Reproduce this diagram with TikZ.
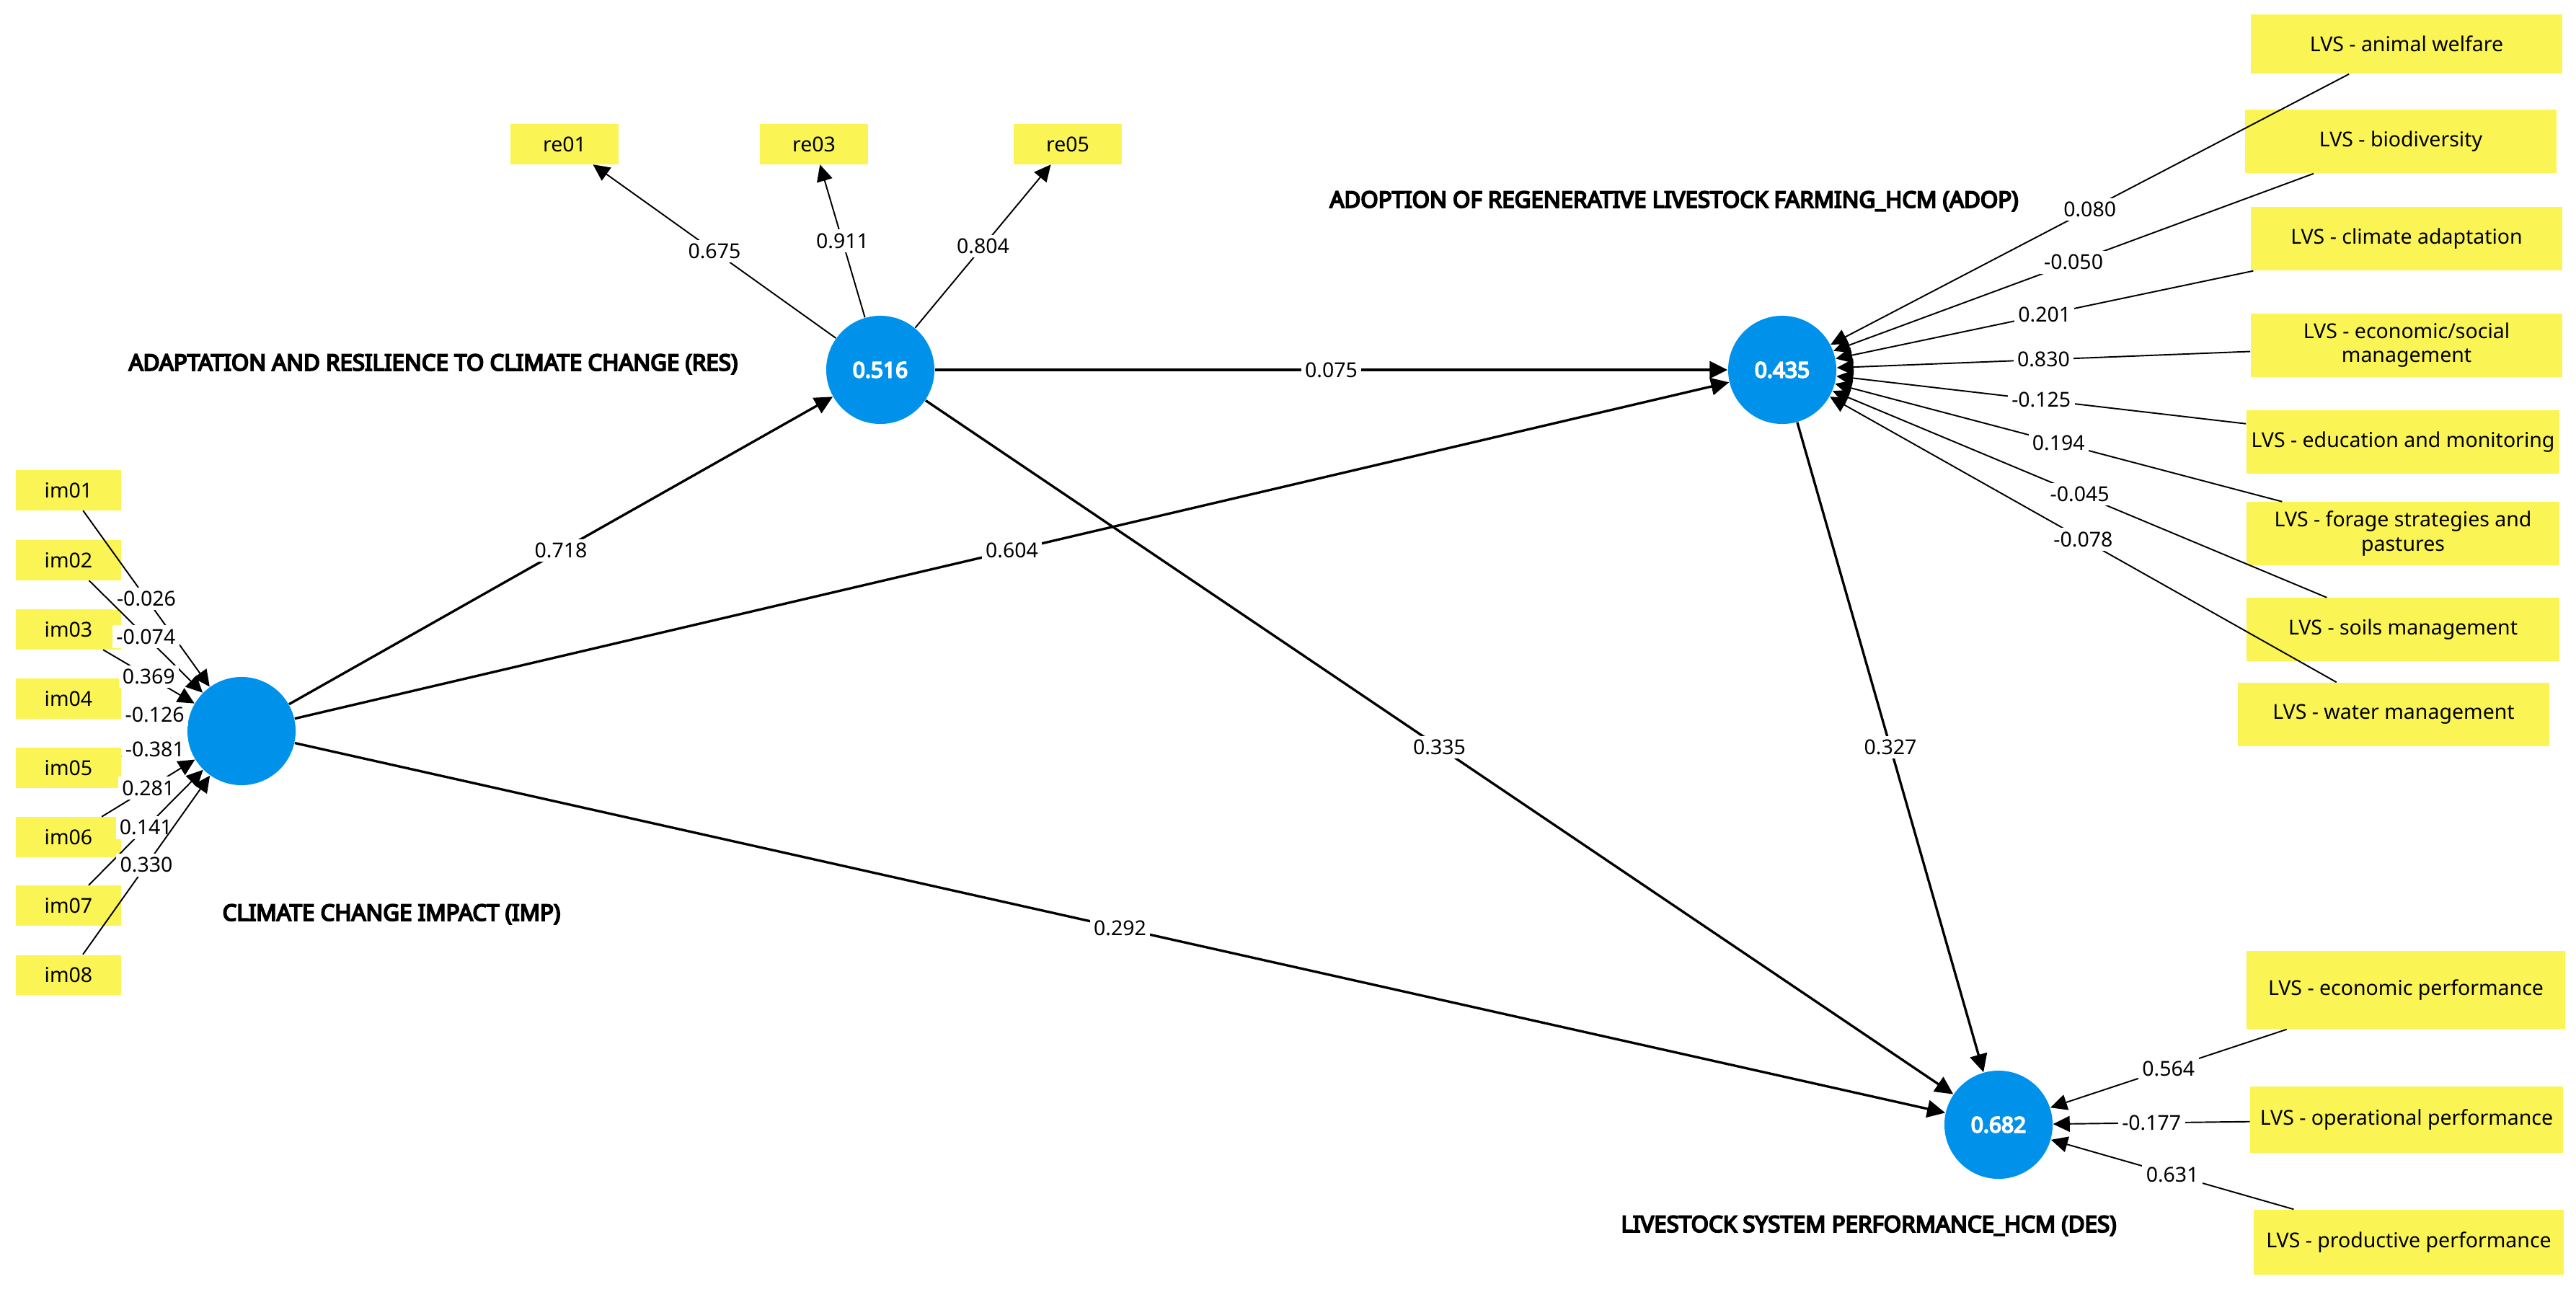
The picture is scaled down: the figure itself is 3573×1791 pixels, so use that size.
\documentclass[tikz,border=0pt]{standalone}
\usepackage{fontspec}
\setmainfont{Noto Sans}
\newfontfamily\heavyfont{Noto Sans}[FakeBold=6]
\usetikzlibrary{arrows.meta}
\definecolor{lvblue}{RGB}{0,146,234}
\definecolor{mvyellow}{RGB}{250,245,85}
\begin{document}
\begin{tikzpicture}[x=0.01cm,y=-0.01cm,
  lat/.style={circle,fill=lvblue,minimum size=1.5cm,inner sep=0pt,text=white,font=\heavyfont\fontsize{8.5pt}{10pt}\selectfont},
  ind/.style={rectangle,fill=mvyellow,inner sep=0pt,minimum height=0.55cm,minimum width=1.46cm,font=\fontsize{8.1pt}{9.4pt}\selectfont},
  lvs/.style={ind,minimum width=4.32cm,minimum height=0.87cm,align=center},
  ttl/.style={font=\heavyfont\fontsize{8.9pt}{10pt}\selectfont,inner sep=0pt},
  lbl/.style={fill=white,inner sep=1.5pt,font=\fontsize{8.1pt}{10pt}\selectfont,text=black},
  mpath/.style={draw=black,line width=0.55pt,-{Triangle[length=0.23cm,width=0.22cm]}},
  spath/.style={draw=black,line width=0.95pt,-{Triangle[length=0.25cm,width=0.24cm]}},
]
\useasboundingbox[fill=white] (0,0) rectangle (3573,1791);

% latent variables
\node[lat] (IMP) at (335,1014) {};
\node[lat] (RES) at (1221,513) {0.516};
\node[lat] (ADOP) at (2472,513) {0.435};
\node[lat] (DES) at (2772,1560) {0.682};

% titles
\node[ttl] (tIMP) at (543,1268) {CLIMATE CHANGE IMPACT (IMP)};
\node[ttl] (tRES) at (601,505) {ADAPTATION AND RESILIENCE TO CLIMATE CHANGE (RES)};
\node[ttl] (tADOP) at (2322,279) {ADOPTION OF REGENERATIVE LIVESTOCK FARMING\_HCM (ADOP)};
\node[ttl] (tDES) at (2592,1700) {LIVESTOCK SYSTEM PERFORMANCE\_HCM (DES)};

% IMP indicators
\node[ind] (im01) at (95,680) {im01};
\node[ind] (im02) at (95,777) {im02};
\node[ind] (im03) at (95,873) {im03};
\node[ind] (im04) at (95,969) {im04};
\node[ind] (im05) at (95,1065) {im05};
\node[ind] (im06) at (95,1161) {im06};
\node[ind] (im07) at (95,1256) {im07};
\node[ind] (im08) at (95,1352) {im08};

% RES indicators
\node[ind,minimum width=1.49cm] (re01) at (783,200) {re01};
\node[ind,minimum width=1.49cm] (re03) at (1129,200) {re03};
\node[ind,minimum width=1.49cm] (re05) at (1481,200) {re05};

% ADOP indicators
\node[lvs,minimum height=0.82cm] (aw) at (3338,61) {LVS - animal welfare};
\node[lvs,minimum height=0.88cm] (bio) at (3330,196) {LVS - biodiversity};
\node[lvs,minimum height=0.88cm] (cli) at (3338,331) {LVS - climate adaptation};
\node[lvs,minimum height=0.88cm] (eco) at (3338,479) {LVS - economic/social\\management};
\node[lvs,minimum width=4.34cm] (edu) at (3333,613) {LVS - education and monitoring};
\node[lvs,minimum width=4.34cm] (for) at (3333,740) {LVS - forage strategies and\\pastures};
\node[lvs,minimum width=4.34cm] (soi) at (3333,873) {LVS - soils management};
\node[lvs,minimum width=4.31cm,minimum height=0.88cm] (wat) at (3320,991) {LVS - water management};

% DES indicators
\node[lvs,minimum width=4.42cm,minimum height=1.08cm] (epf) at (3337,1373) {LVS - economic performance};
\node[lvs,minimum width=4.33cm,minimum height=0.92cm] (opf) at (3338,1553) {LVS - operational performance};
\node[lvs,minimum width=4.29cm,minimum height=0.90cm] (ppf) at (3341,1723) {LVS - productive performance};

% measurement model: IMP
\draw[mpath] (im01) -- (IMP) node[lbl,midway] {-0.026};
\draw[mpath] (im02) -- (IMP) node[lbl,midway] {-0.074};
\draw[mpath] (im03) -- (IMP) node[lbl,midway] {0.369};
\draw[mpath] (im04) -- (IMP) node[lbl,midway] {-0.126};
\draw[mpath] (im05) -- (IMP) node[lbl,midway] {-0.381};
\draw[mpath] (im06) -- (IMP) node[lbl,midway] {0.281};
\draw[mpath] (im07) -- (IMP) node[lbl,midway] {0.141};
\draw[mpath] (im08) -- (IMP) node[lbl,midway] {0.330};

% measurement model: RES
\draw[mpath] (RES) -- (re01) node[lbl,midway] {0.675};
\draw[mpath] (RES) -- (re03) node[lbl,midway] {0.911};
\draw[mpath] (RES) -- (re05) node[lbl,midway] {0.804};

% measurement model: ADOP
\draw[mpath] (aw) -- (ADOP) node[lbl,midway] {0.080};
\draw[mpath] (bio) -- (ADOP) node[lbl,midway] {-0.050};
\draw[mpath] (cli) -- (ADOP) node[lbl,midway] {0.201};
\draw[mpath] (eco) -- (ADOP) node[lbl,midway] {0.830};
\draw[mpath] (edu) -- (ADOP) node[lbl,midway] {-0.125};
\draw[mpath] (for) -- (ADOP) node[lbl,midway] {0.194};
\draw[mpath] (soi) -- (ADOP) node[lbl,midway] {-0.045};
\draw[mpath] (wat) -- (ADOP) node[lbl,midway] {-0.078};

% measurement model: DES
\draw[mpath] (epf) -- (DES) node[lbl,midway] {0.564};
\draw[mpath] (opf) -- (DES) node[lbl,midway] {-0.177};
\draw[mpath] (ppf) -- (DES) node[lbl,midway] {0.631};

% structural model
\draw[spath] (IMP) -- (RES) node[lbl,midway] {0.718};
\draw[spath] (IMP) -- (ADOP) node[lbl,midway] {0.604};
\draw[spath] (IMP) -- (DES) node[lbl,midway] {0.292};
\draw[spath] (RES) -- (ADOP) node[lbl,midway] {0.075};
\draw[spath] (RES) -- (DES) node[lbl,midway] {0.335};
\draw[spath] (ADOP) -- (DES) node[lbl,midway] {0.327};
\end{tikzpicture}
\end{document}
